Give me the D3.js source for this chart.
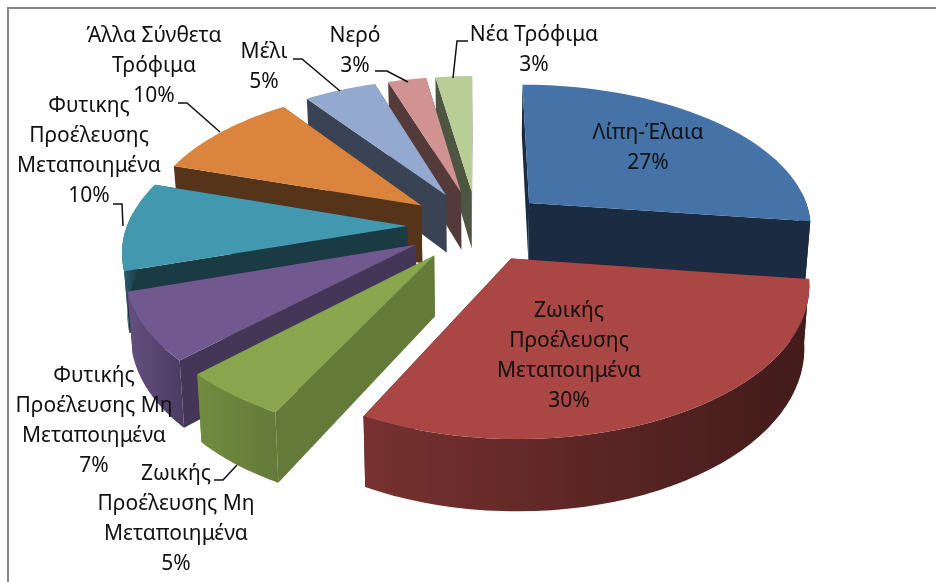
<!DOCTYPE html>
<html>
<head>
<meta charset="utf-8">
<script src="https://cdn.jsdelivr.net/npm/d3@7"></script>
<style>
  html, body { margin: 0; padding: 0; background: #fff; }
  svg { display: block; filter: blur(0.4px); }
  text { font-family: "Noto Sans", sans-serif; font-size: 21px; fill: #111; text-anchor: middle; }
</style>
</head>
<body>
<div id="chart"></div>
<script>
const categories = [
    ["Λίπη-Έλαια"],
    ["Ζωικής", "Προέλευσης", "Μεταποιημένα"],
    ["Ζωικής", "Προέλευσης Μη", "Μεταποιημένα"],
    ["Φυτικής", "Προέλευσης Μη", "Μεταποιημένα"],
    ["Φυτικης", "Προέλευσης", "Μεταποιημένα"],
    ["Άλλα Σύνθετα", "Τρόφιμα"],
    ["Μέλι"],
    ["Νερό"],
    ["Νέα Τρόφιμα"]
];
// the labels show them rounded
const values = [27.1, 30.4, 5.2, 7.4, 9.8, 10.1, 4.9, 2.6, 2.5];

const topColors = ["#4572A7", "#AA4643", "#89A54E", "#71588F", "#4198AF", "#DB843D", "#93A9CF", "#D19392", "#B9CD96"];
const cutColors = ["#1B2B42", "#411B1A", "#647A39", "#443656", "#1A3B44", "#56341A", "#3A4354", "#553A3A", "#4D5640"];
const wallLight = ["#1B2B42", "#773130", "#718C40", "#65507F", "#2A6070", "#8A5426", "#5C6C85", "#855E5E", "#75835F"];
const wallDark = ["#1B2B42", "#411B1A", "#647A39", "#4A3B60", "#1A3B44", "#56341A", "#3A4354", "#553A3A", "#4D5640"];

// back to front, the order the wedges have to be painted in
const paintOrder = [8, 7, 6, 5, 4, 3, 2, 0, 1];

// label centre, first baseline, leader points
const labelLayout = [
    { x: 648, y: 139 },
    { x: 569, y: 317 },
    { x: 176, y: 480, leader: [[237, 465], [223, 480], [214, 480]] },
    { x: 94, y: 382 },
    { x: 89, y: 112, leader: [[123, 226], [122, 204], [113, 204]] },
    { x: 154, y: 42, leader: [[220, 132], [187, 103], [178, 103]] },
    { x: 264, y: 58, leader: [[340, 91], [302, 59], [293, 59]] },
    { x: 355, y: 42, leader: [[408, 82], [387, 71], [375, 71]] },
    { x: 534, y: 41, leader: [[453, 78], [457, 41], [468, 41]] }
];

const width = 936;
const height = 582;

// 3D view of the pie
const cx = 477, cy = 226, scaleRight = 284, scaleLeft = 280, scaleY = 142.5, persp = 0.15;
const explode = 0.25, depth = 59;

function project(angle, mid, r, down) {
    const X = explode * Math.sin(mid) + r * Math.sin(angle);
    const Z = explode * Math.cos(mid) + r * Math.cos(angle);
    const w = 1 / (1 + persp * Z);
    const shrink = down ? 0.985 : 1;
    return [
        cx + (X < 0 ? scaleLeft : scaleRight) * X * w * shrink,
        cy - scaleY * Z * w + (down ? depth * w : 0)
    ];
}

const pie = d3.pie().sort(null).value(d => d);
const arcs = pie(values);
const line = d3.line();

const svg = d3.select("#chart")
    .append("svg")
    .attr("width", width)
    .attr("height", height);

const defs = svg.append("defs");

// frame
svg.append("path")
    .attr("d", "M8,582V8H936")
    .attr("fill", "none")
    .attr("stroke", "#868686")
    .attr("stroke-width", 2);

const pieGroup = svg.append("g");

paintOrder.forEach(i => {
    const a = arcs[i];
    const mid = (a.startAngle + a.endAngle) / 2;
    const g = pieGroup.append("g").attr("class", "slice");

    const steps = d3.range(0, 41).map(k => a.startAngle + (a.endAngle - a.startAngle) * k / 40);

    // radial cut walls
    [a.startAngle, a.endAngle].forEach(angle => {
        g.append("path")
            .attr("d", line([
                project(angle, mid, 0, false),
                project(angle, mid, 1, false),
                project(angle, mid, 1, true),
                project(angle, mid, 0, true)
            ]) + "Z")
            .attr("fill", cutColors[i]);
    });

    // outer wall, front part only
    const front = steps.filter(t => Math.cos(t) < 0.1);
    if (front.length > 1) {
        const grad = defs.append("linearGradient")
            .attr("id", "wall" + i);
        grad.append("stop").attr("offset", "0%").attr("stop-color", wallLight[i]);
        grad.append("stop").attr("offset", "100%").attr("stop-color", wallDark[i]);
        const upper = front.map(t => project(t, mid, 1, false));
        const lower = front.map(t => project(t, mid, 1, true)).reverse();
        g.append("path")
            .attr("d", line(upper.concat(lower)) + "Z")
            .attr("fill", `url(#wall${i})`);
    }

    // top face
    const top = [project(a.startAngle, mid, 0, false)].concat(steps.map(t => project(t, mid, 1, false)));
    g.append("path")
        .attr("d", line(top) + "Z")
        .attr("fill", topColors[i]);
});

// leaders
labelLayout.forEach(l => {
    if (!l.leader) return;
    svg.append("path")
        .attr("d", line(l.leader))
        .attr("fill", "none")
        .attr("stroke", "#111")
        .attr("stroke-width", 1.5);
});

// labels
categories.forEach((lines, i) => {
    const l = labelLayout[i];
    const all = lines.concat(Math.round(values[i]) + "%");
    const t = svg.append("text").attr("x", l.x).attr("y", l.y);
    all.forEach((s, k) => {
        t.append("tspan")
            .attr("x", l.x)
            .attr("dy", k === 0 ? 0 : 30)
            .text(s);
    });
});
</script>
</body>
</html>
